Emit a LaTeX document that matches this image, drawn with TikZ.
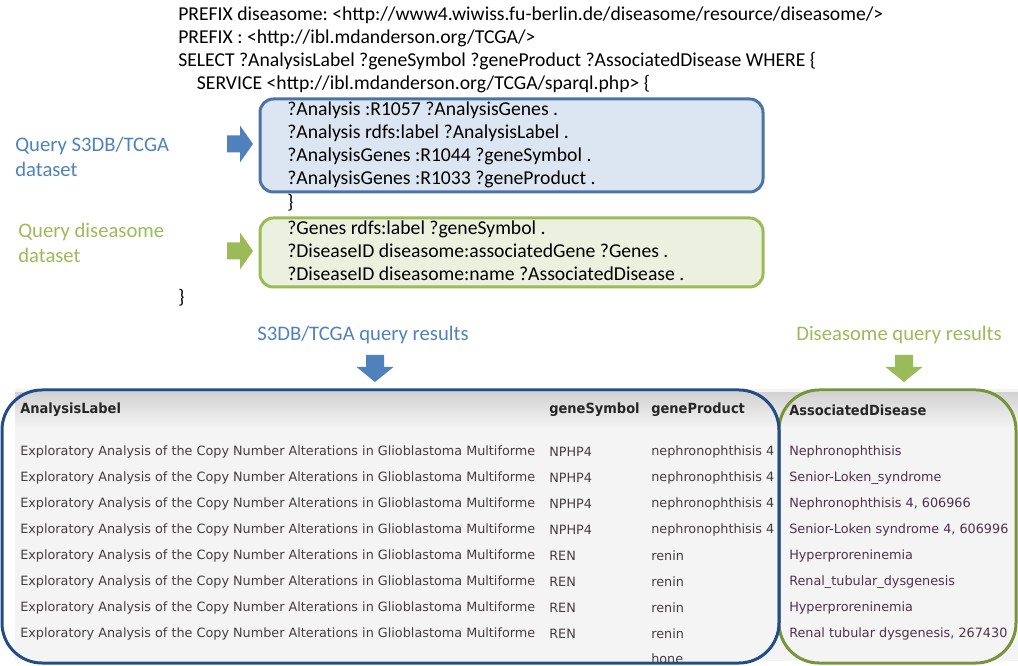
\documentclass[tikz,border=0pt]{standalone}
\usepackage{fontspec}
\setmainfont{Carlito}
\newfontfamily\tablefont{DejaVu Sans}
\newfontfamily\headfont[FakeStretch=0.93]{DejaVu Sans}
\frenchspacing
\definecolor{s3blue}{HTML}{4F81BD}
\definecolor{s3border}{HTML}{4A74A8}
\definecolor{s3fill}{HTML}{DCE6F2}
\definecolor{disgreen}{HTML}{9BBB59}
\definecolor{disfill}{HTML}{EBF1DE}
\definecolor{resblue}{HTML}{234B85}
\definecolor{resgreen}{HTML}{77933C}
\definecolor{panel}{HTML}{F4F4F4}
\definecolor{headtop}{HTML}{D3D3D3}
\definecolor{celltext}{HTML}{453E3E}
\tikzstyle{code}=[font=\fontsize{14.75}{17.25}\selectfont, align=left, inner sep=0pt, anchor=west]
\tikzstyle{caption}=[font=\fontsize{15.5}{18.75}\selectfont, align=left, inner sep=0pt]
\tikzstyle{querybox}=[rectangle, rounded corners=10pt, line width=2.25pt]
\tikzstyle{restable}=[rounded corners=30pt, line width=2.25pt]
\tikzstyle{cell}=[font=\tablefont\fontsize{9.6}{11}\selectfont, text=celltext, inner sep=0pt, anchor=west]
\tikzstyle{head}=[font=\headfont\bfseries\fontsize{10.5}{12}\selectfont, text=black!85, inner sep=0pt, anchor=west]
\newcommand{\rowY}{452}
\newcommand{\rowH}{26}
% block arrows: #1 colour, #2 position of the tail middle
\newcommand{\rightblock}[2]{
\fill[#1, shift={#2}] (0,-8.5) -- (13,-8.5) -- (13,-18.5) -- (26,0) -- (13,18.5) -- (13,8.5) -- (0,8.5) -- cycle;
}
\newcommand{\downblock}[2]{
\fill[#1, shift={#2}] (-9,0) -- (-9,12) -- (-18.5,12) -- (0,27) -- (18.5,12) -- (9,12) -- (9,0) -- cycle;
}
\begin{document}
\begin{tikzpicture}[x=0.75pt,y=-0.75pt]
\useasboundingbox (0,0) rectangle (1018,666);
% query
\node[code] (prefix) at (178,50) {PREFIX diseasome: <http://www4.wiwiss.fu-berlin.de/diseasome/resource/diseasome/>\\
PREFIX : <http://ibl.mdanderson.org/TCGA/>\\
SELECT ?AnalysisLabel ?geneSymbol ?geneProduct ?AssociatedDisease WHERE \{\\
\hspace*{14pt}SERVICE <http://ibl.mdanderson.org/TCGA/sparql.php> \{};
\node[querybox, draw=s3border, fill=s3fill, minimum width=377.25pt, minimum height=69.75pt] (s3box) at (511.5,145.5) {};
\node[querybox, draw=disgreen, fill=disfill, minimum width=377.25pt, minimum height=51.75pt] (disbox) at (511.5,252.5) {};
\node[code] (s3q) at (287,145) {?Analysis :R1057 ?AnalysisGenes .\\
?Analysis rdfs:label ?AnalysisLabel .\\
?AnalysisGenes :R1044 ?geneSymbol .\\
?AnalysisGenes :R1033 ?geneProduct .};
\node[code] (s3close) at (287,203) {\}};
\node[code] (disq) at (287,251) {?Genes rdfs:label ?geneSymbol .\\
?DiseaseID diseasome:associatedGene ?Genes .\\
?DiseaseID diseasome:name ?AssociatedDisease .};
\node[code] (close) at (178,298) {\}};
% labels and arrows
\node[caption, text=s3blue, anchor=west] (s3label) at (15,157) {Query S3DB/TCGA\\dataset};
\node[caption, text=disgreen, anchor=west] (dislabel) at (18,243) {Query diseasome\\dataset};
\rightblock{s3blue}{(227,144)}
\rightblock{disgreen}{(227,251)}
\node[caption, text=s3blue] (s3res) at (363,335) {S3DB/TCGA query results};
\node[caption, text=disgreen] (disres) at (899,335) {Diseasome query results};
\downblock{s3blue}{(375,355)}
\downblock{disgreen}{(904,355)}
% result table
\fill[panel] (15,389) rectangle (1018,661);
\shade[top color=headtop, bottom color=panel] (15,393) rectangle (1018,428);
\node[head] (hlabel) at (20,410) {AnalysisLabel};
\node[head] (hsym) at (549,410) {geneSymbol};
\node[head] (hprod) at (651,410) {geneProduct};
\node[head] (hdis) at (789,410) {AssociatedDisease};
\begin{scope}
\clip (0,389) rectangle (1018,661);
\foreach \sym/\prod/\dis [count=\i from 0] in {NPHP4/nephronophthisis 4/Nephronophthisis,
  NPHP4/nephronophthisis 4/Senior-Loken\_syndrome,
  NPHP4/nephronophthisis 4/{Nephronophthisis 4, 606966},
  NPHP4/nephronophthisis 4/{Senior-Loken syndrome 4, 606996},
  REN/renin/Hyperproreninemia,
  REN/renin/Renal\_tubular\_dysgenesis,
  REN/renin/Hyperproreninemia,
  REN/renin/{Renal tubular dysgenesis, 267430}} {
  \node[cell] (lab\i) at (20,\rowY+\rowH*\i) {Exploratory Analysis of the Copy Number Alterations in Glioblastoma Multiforme};
  \node[cell] (sym\i) at (549,\rowY+\rowH*\i) {\sym};
  \node[cell] (prod\i) at (651,\rowY+\rowH*\i) {\prod};
  \node[cell, text=celltext!80!violet] (dis\i) at (789,\rowY+\rowH*\i) {\dis};
}
\node[cell] (prod8) at (651,659) {hone};
\end{scope}
\draw[restable, draw=resgreen] (779,390) rectangle (1016,663);
\draw[restable, draw=resblue] (2,390) rectangle (779,663);
\end{tikzpicture}
\end{document}
